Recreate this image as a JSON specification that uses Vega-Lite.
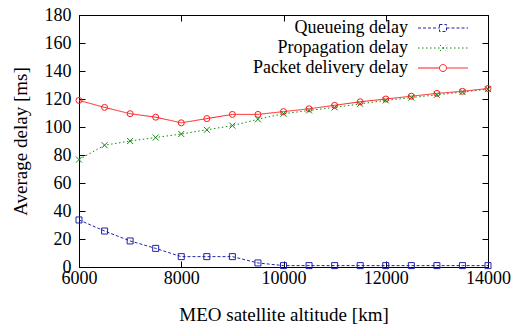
{
  "$schema": "https://vega.github.io/schema/vega-lite/v6.json",
  "width": 409,
  "height": 252,
  "autosize": {"type": "none"},
  "padding": {"left": 79, "top": 15, "right": 28, "bottom": 61},
  "background": "white",
  "config": {
    "font": "Liberation Serif",
    "view": {"stroke": "black", "strokeWidth": 1},
    "axis": {
      "grid": false,
      "domain": true,
      "domainColor": "#000000",
      "domainWidth": 1,
      "ticks": true,
      "tickColor": "#000000",
      "tickOpacity": 1,
      "tickSize": -6,
      "tickWidth": 1,
      "labelColor": "black",
      "titleColor": "black",
      "labelFont": "Liberation Serif",
      "titleFont": "Liberation Serif",
      "labelFontSize": 18,
      "titleFontSize": 19,
      "titleFontWeight": "normal"
    },
    "legend": {
      "orient": "none",
      "legendX": 355,
      "legendY": 4,
      "padding": 0,
      "symbolSize": 100,
      "symbolStrokeWidth": 1,
      "labelAlign": "right",
      "labelOffset": -44,
      "labelFont": "Liberation Serif",
      "labelFontSize": 18,
      "labelColor": "black",
      "labelLimit": 0,
      "rowPadding": 2
    }
  },
  "data": {
    "values": [
      {"alt": 6000, "series": "Queueing delay", "delay": 33.6},
      {"alt": 6500, "series": "Queueing delay", "delay": 25.7},
      {"alt": 7000, "series": "Queueing delay", "delay": 18.6},
      {"alt": 7500, "series": "Queueing delay", "delay": 13.3},
      {"alt": 8000, "series": "Queueing delay", "delay": 7.4},
      {"alt": 8500, "series": "Queueing delay", "delay": 7.4},
      {"alt": 9000, "series": "Queueing delay", "delay": 7.4},
      {"alt": 9500, "series": "Queueing delay", "delay": 2.9},
      {"alt": 10000, "series": "Queueing delay", "delay": 1.0},
      {"alt": 10500, "series": "Queueing delay", "delay": 1.0},
      {"alt": 11000, "series": "Queueing delay", "delay": 1.0},
      {"alt": 11500, "series": "Queueing delay", "delay": 1.0},
      {"alt": 12000, "series": "Queueing delay", "delay": 1.0},
      {"alt": 12500, "series": "Queueing delay", "delay": 1.0},
      {"alt": 13000, "series": "Queueing delay", "delay": 1.0},
      {"alt": 13500, "series": "Queueing delay", "delay": 1.0},
      {"alt": 14000, "series": "Queueing delay", "delay": 1.0},
      {"alt": 6000, "series": "Propagation delay", "delay": 76.7},
      {"alt": 6500, "series": "Propagation delay", "delay": 87.0},
      {"alt": 7000, "series": "Propagation delay", "delay": 90.0},
      {"alt": 7500, "series": "Propagation delay", "delay": 92.5},
      {"alt": 8000, "series": "Propagation delay", "delay": 95.0},
      {"alt": 8500, "series": "Propagation delay", "delay": 98.0},
      {"alt": 9000, "series": "Propagation delay", "delay": 101.0},
      {"alt": 9500, "series": "Propagation delay", "delay": 105.5},
      {"alt": 10000, "series": "Propagation delay", "delay": 109.5},
      {"alt": 10500, "series": "Propagation delay", "delay": 111.8},
      {"alt": 11000, "series": "Propagation delay", "delay": 114.0},
      {"alt": 11500, "series": "Propagation delay", "delay": 116.5},
      {"alt": 12000, "series": "Propagation delay", "delay": 119.0},
      {"alt": 12500, "series": "Propagation delay", "delay": 121.0},
      {"alt": 13000, "series": "Propagation delay", "delay": 123.0},
      {"alt": 13500, "series": "Propagation delay", "delay": 125.0},
      {"alt": 14000, "series": "Propagation delay", "delay": 127.0},
      {"alt": 6000, "series": "Packet delivery delay", "delay": 119.0},
      {"alt": 6500, "series": "Packet delivery delay", "delay": 114.0},
      {"alt": 7000, "series": "Packet delivery delay", "delay": 109.5},
      {"alt": 7500, "series": "Packet delivery delay", "delay": 107.0},
      {"alt": 8000, "series": "Packet delivery delay", "delay": 103.0},
      {"alt": 8500, "series": "Packet delivery delay", "delay": 106.0},
      {"alt": 9000, "series": "Packet delivery delay", "delay": 109.0},
      {"alt": 9500, "series": "Packet delivery delay", "delay": 109.0},
      {"alt": 10000, "series": "Packet delivery delay", "delay": 111.0},
      {"alt": 10500, "series": "Packet delivery delay", "delay": 113.0},
      {"alt": 11000, "series": "Packet delivery delay", "delay": 115.5},
      {"alt": 11500, "series": "Packet delivery delay", "delay": 118.0},
      {"alt": 12000, "series": "Packet delivery delay", "delay": 120.0},
      {"alt": 12500, "series": "Packet delivery delay", "delay": 122.0},
      {"alt": 13000, "series": "Packet delivery delay", "delay": 124.0},
      {"alt": 13500, "series": "Packet delivery delay", "delay": 125.5},
      {"alt": 14000, "series": "Packet delivery delay", "delay": 127.5}
    ]
  },
  "layer": [
    {
      "mark": {"type": "line", "strokeWidth": 1},
      "encoding": {
        "x": {"field": "alt", "type": "quantitative", "scale": {"domain": [6000, 14000], "nice": false, "zero": false}, "axis": {"orient": "bottom", "values": [6000, 8000, 10000, 12000, 14000], "format": "d", "title": "MEO satellite altitude [km]", "labelPadding": 8, "titlePadding": 18, "labelFlush": false}},
        "y": {"field": "delay", "type": "quantitative", "scale": {"domain": [0, 180], "nice": false}, "axis": {"orient": "left", "values": [0, 20, 40, 60, 80, 100, 120, 140, 160, 180], "title": "Average delay [ms]", "labelPadding": 14, "titlePadding": 14}},
        "color": {
          "field": "series", "type": "nominal",
          "scale": {"domain": ["Queueing delay", "Propagation delay", "Packet delivery delay"], "range": ["#2222aa", "#138a13", "#ff1a1a"]},
          "legend": {
            "title": null,
            "encode": {
              "symbols": {
                "update": {
                  "fill": {"value": "transparent"},
                  "shape": {"signal": "datum.value == 'Queueing delay' ? 'M-5,0H-0.7M0.7,0H5M-0.7,-0.7H0.7V0.7H-0.7Z' : datum.value == 'Propagation delay' ? 'M-5,0H5M-0.6,-0.6L0.6,0.6M-0.6,0.6L0.6,-0.6' : 'M-5,0H-0.7M0.7,0H5M-0.7,0A0.7,0.7,0,1,1,0.7,0A0.7,0.7,0,1,1,-0.7,0Z'"}
                }
              }
            }
          }
        },
        "strokeDash": {
          "field": "series", "type": "nominal",
          "scale": {"domain": ["Queueing delay", "Propagation delay", "Packet delivery delay"], "range": [[3, 2], [1.5, 2.5], [1, 0]]},
          "legend": {"title": null}
        }
      }
    },
    {
      "mark": {"type": "point", "filled": false, "size": 36, "strokeWidth": 1, "opacity": 1},
      "encoding": {
        "x": {"field": "alt", "type": "quantitative", "axis": null},
        "y": {"field": "delay", "type": "quantitative", "axis": null},
        "color": {"field": "series", "type": "nominal", "legend": null},
        "shape": {
          "condition": [
            {"test": "datum.series == 'Queueing delay'", "value": "square"},
            {"test": "datum.series == 'Propagation delay'", "value": "M-1,-1L1,1M-1,1L1,-1"}
          ],
          "value": "circle"
        }
      }
    },
    {
      "mark": {"type": "point", "opacity": 0},
      "encoding": {
        "x": {"field": "alt", "type": "quantitative", "axis": {"orient": "top", "values": [6000, 8000, 10000, 12000, 14000], "labels": false, "title": null}},
        "y": {"field": "delay", "type": "quantitative", "axis": {"orient": "right", "values": [0, 20, 40, 60, 80, 100, 120, 140, 160, 180], "labels": false, "title": null}}
      }
    }
  ],
  "resolve": {"axis": {"x": "independent", "y": "independent"}}
}
